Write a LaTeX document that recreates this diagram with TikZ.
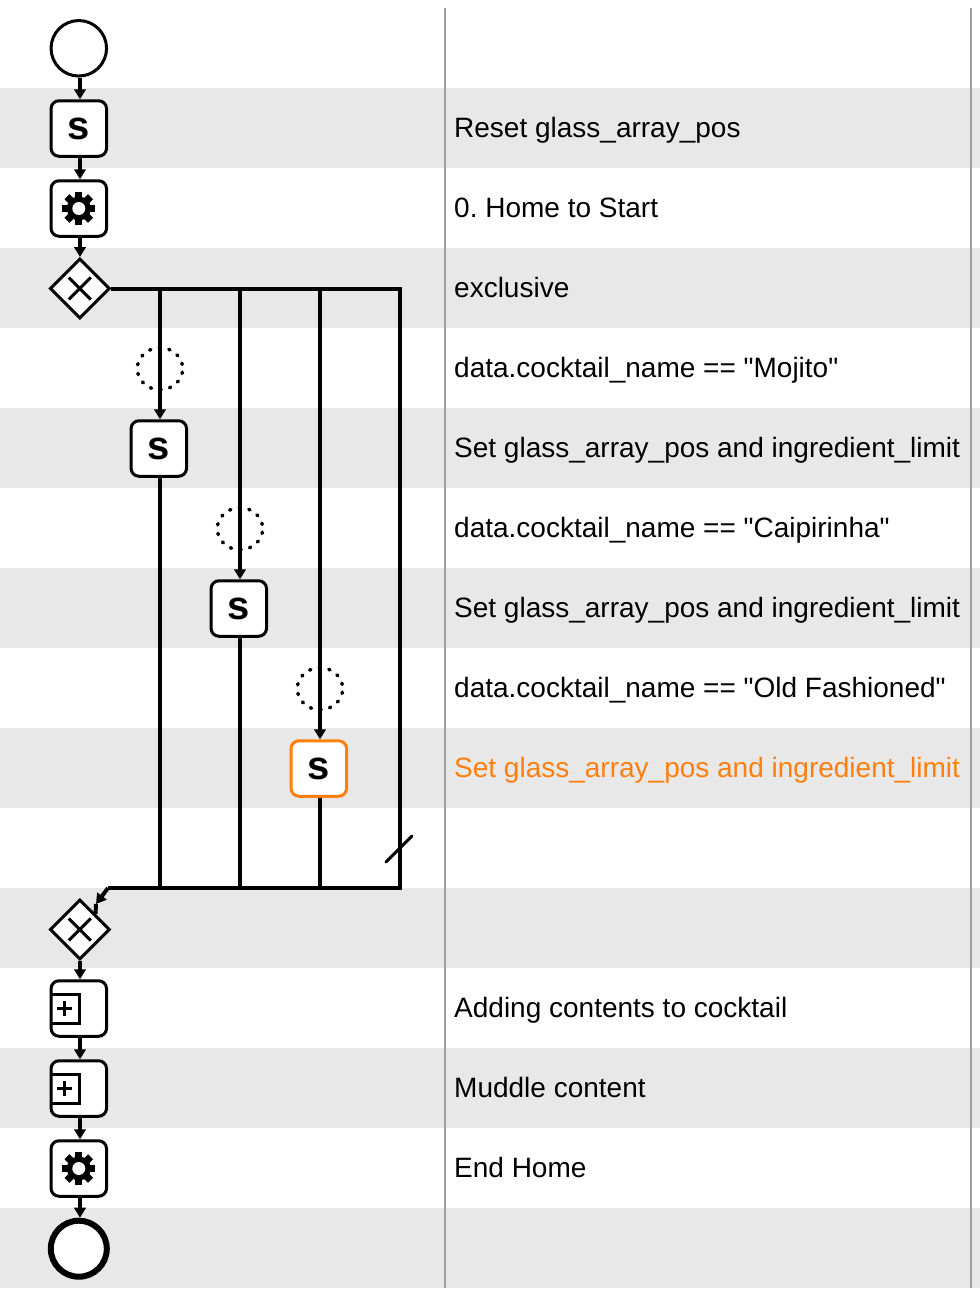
\documentclass[tikz,border=0pt]{standalone}
\usepackage{fontspec}
\newfontfamily\lblfont{Liberation Sans}
\usetikzlibrary{arrows.meta,shapes.geometric}
\definecolor{bandgray}{HTML}{E8E8E8}
\definecolor{rulegray}{HTML}{A0A0A0}
\definecolor{activeorange}{HTML}{FF7F0E}
\newcommand{\sicon}{\raisebox{-1.5pt}{s}}
\tikzset{
  evt/.style={draw=black, fill=white, circle, line width=3pt, minimum size=55.5pt, inner sep=0pt},
  endevt/.style={evt, line width=6pt, minimum size=56pt},
  taskbox/.style={draw=black, fill=white, rectangle, rounded corners=8pt, line width=3pt, minimum size=55.5pt, inner sep=0pt, font=\lblfont\fontsize{40}{40}\selectfont\bfseries},
  activebox/.style={taskbox, draw=activeorange},
  gate/.style={draw=black, fill=white, diamond, line width=3pt, minimum size=60pt, inner sep=0pt},
  flow/.style={line width=4pt, -{Triangle[length=10pt,width=11.5pt]}},
  seq/.style={line width=4pt},
  cond/.style={draw=black, line width=3.6pt, line cap=round, dash pattern=on 1.2pt off 8.65pt, dash phase=5.5pt, ellipse, minimum width=45.4pt, minimum height=42pt, inner sep=0pt, outer sep=0pt},
  lbl/.style={anchor=base west, inner sep=0pt, font=\lblfont\frenchspacing\fontsize{28}{28}\selectfont},
  gearicon/.pic={
    \foreach \a in {0,45,...,315}
      \fill[black, rotate=\a] (-3.4pt,-16.5pt) rectangle (3.4pt,16.5pt);
    \fill[black] (0,0) circle (12pt);
    \fill[white] (0,0) circle (6.5pt);
  },
  xicon/.pic={
    \draw[line width=3pt] (-11pt,-11pt) -- (11pt,11pt) (-11pt,11pt) -- (11pt,-11pt);
  },
  subicon/.pic={
    \draw[line width=3pt] (-27pt,-14.5pt) -- (1pt,-14.5pt) -- (1pt,14.5pt) -- (-27pt,14.5pt);
    \draw[line width=3pt] (-21.5pt,0.5pt) -- (-6.5pt,0.5pt) (-14pt,-7pt) -- (-14pt,8pt);
  }
}
\begin{document}
\begin{tikzpicture}[x=1pt,y=-1pt]
\useasboundingbox (0,0) rectangle (980,1296);
\fill[white] (0,0) rectangle (980,1296);
% row bands
\foreach \y in {88,248,...,1208}
  \fill[bandgray] (0,\y) rectangle (980,\y+80);
\draw[rulegray, line width=2pt] (445,8) -- (445,1288);
\draw[rulegray, line width=2pt] (971,8) -- (971,1288);
% main column
\node[evt] (start) at (78.8,48.3) {};
\node[taskbox] (s1) at (78.8,128.5) {\sicon};
\node[taskbox] (g1) at (78.8,208.5) {};
\pic at (g1) {gearicon};
\node[gate] (split) at (79.8,288.5) {};
\pic at (split) {xicon};
\node[gate] (merge) at (79.8,929.5) {};
\pic at (merge) {xicon};
\node[taskbox] (m1) at (78.8,1008.5) {};
\pic at (m1) {subicon};
\node[taskbox] (m2) at (78.8,1088.5) {};
\pic at (m2) {subicon};
\node[taskbox] (g2) at (78.8,1168.5) {};
\pic at (g2) {gearicon};
\node[endevt] (stop) at (78.8,1248.7) {};
\draw[flow] ([xshift=1.2pt]start.south) -- ([xshift=1.2pt]s1.north);
\draw[flow] ([xshift=1.2pt]s1.south) -- ([xshift=1.2pt]g1.north);
\draw[flow] ([xshift=1.2pt]g1.south) -- ([xshift=.2pt]split.north);
\draw[flow] ([xshift=.2pt]merge.south) -- ([xshift=1.2pt]m1.north);
\draw[flow] ([xshift=1.2pt]m1.south) -- ([xshift=1.2pt]m2.north);
\draw[flow] ([xshift=1.2pt]m2.south) -- ([xshift=1.2pt]g2.north);
\draw[flow] ([xshift=1.2pt]g2.south) -- ([xshift=1.2pt]stop.north);
% branches
\node[cond] (c1) at (160,368.7) {};
\node[cond] (c2) at (240,528.7) {};
\node[cond] (c3) at (320,688.7) {};
\node[taskbox] (b1) at (158.8,448.5) {\sicon};
\node[taskbox] (b2) at (238.8,608.5) {\sicon};
\node[activebox] (b3) at (318.8,768.5) {\sicon};
\coordinate (t1) at (160,288.5);
\coordinate (t2) at (240,288.5);
\coordinate (t3) at (320,288.5);
\coordinate (t4) at (400,288.5);
\coordinate (u0) at (108,888);
\coordinate (u1) at (160,888);
\coordinate (u2) at (240,888);
\coordinate (u3) at (320,888);
\coordinate (u4) at (400,888);
\coordinate (jtip) at (96,904);
\draw[seq, line join=miter] (split.east) -- (t4) -- (u4) -- (u0);
\draw[flow] (u0) -- (jtip);
\draw[seq] (jtip) -- (merge.north east);
\draw[flow] (t1) -- ([xshift=1.2pt]b1.north);
\draw[flow] (t2) -- ([xshift=1.2pt]b2.north);
\draw[flow] (t3) -- ([xshift=1.2pt]b3.north);
\draw[seq] ([xshift=1.2pt]b1.south) -- (u1);
\draw[seq] ([xshift=1.2pt]b2.south) -- (u2);
\draw[seq] ([xshift=1.2pt]b3.south) -- (u3);
\coordinate (d1) at (386,862);
\coordinate (d2) at (412,836);
\draw[line width=3pt, line cap=round] (d1) -- (d2);
% labels
\node[lbl] (l1) at (454,137) {Reset glass\_array\_pos};
\node[lbl] (l2) at (454,217) {0. Home to Start};
\node[lbl] (l3) at (454,297) {exclusive};
\node[lbl] (l4) at (454,377) {data.cocktail\_name == "Mojito"};
\node[lbl] (l5) at (454,457) {Set glass\_array\_pos and ingredient\_limit};
\node[lbl] (l6) at (454,537) {data.cocktail\_name == "Caipirinha"};
\node[lbl] (l7) at (454,617) {Set glass\_array\_pos and ingredient\_limit};
\node[lbl] (l8) at (454,697) {data.cocktail\_name == "Old Fashioned"};
\node[lbl, text=activeorange] (l9) at (454,777) {Set glass\_array\_pos and ingredient\_limit};
\node[lbl] (l10) at (454,1017) {Adding contents to cocktail};
\node[lbl] (l11) at (454,1097) {Muddle content};
\node[lbl] (l12) at (454,1177) {End Home};
\end{tikzpicture}
\end{document}
